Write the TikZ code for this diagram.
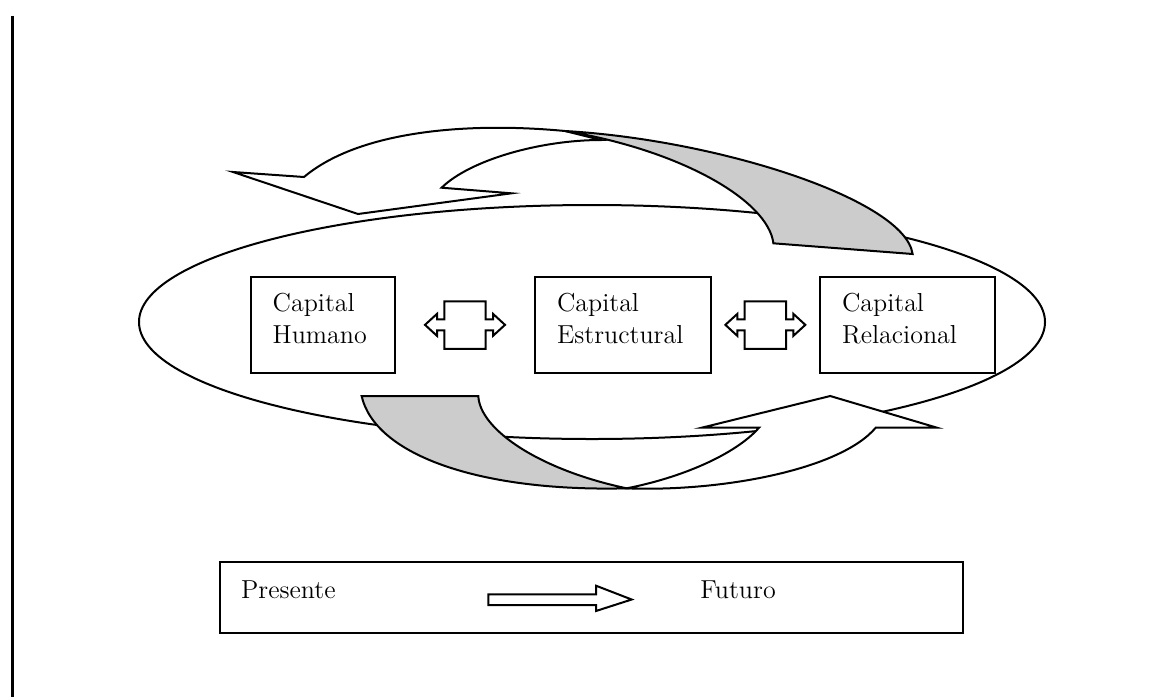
\documentclass[tikz,border=0pt]{standalone}
\usepackage{tikz}
\usetikzlibrary{positioning}
\usetikzlibrary{calc}
\definecolor{dorso}{gray}{0.8}
\tikzstyle{capbox}=[draw,line width=1pt,inner xsep=11pt,align=left,minimum height=47.8pt,text height=9.02pt,text depth=22.2pt,font=\fontsize{13}{15.8}\selectfont]
\tikzstyle{frontface}=[draw,line width=1pt,fill=white,line join=miter]
\tikzstyle{backface}=[draw,line width=1pt,fill=dorso]
\tikzstyle{blockarrow}=[draw,line width=1pt,fill=white]
\tikzstyle{rotulo}=[font=\fontsize{13}{15.8}\selectfont,inner sep=0pt]

\begin{document}
\begin{tikzpicture}[x=0.5pt,y=-0.5pt]
   \useasboundingbox (0,0) rectangle (1155,697);

   \draw[line width=1.35pt] (12.3,15.7) -- (12.3,697);

   \draw[line width=1pt] (592,322) ellipse [x radius=453, y radius=117];

   % upper turn
   \path[frontface] (304,177) .. controls (360,130) and (470,122) .. (565,131)
        -- (601,140) .. controls (540,140) and (470,160) .. (441.6,187.7)
        -- (511.5,193.3) -- (358,214) -- (233,172) -- cycle;
   \path[backface] (565,131) .. controls (720,140) and (905,200) .. (912.6,254)
        -- (773.4,243.3) .. controls (768,200) and (680,150) .. (565,131) -- cycle;

   % lower turn
   \path[backface] (361.6,396) -- (478.3,396) .. controls (480,430) and (540,470) .. (626.6,488.3)
        .. controls (480,492) and (375,455) .. (361.6,396) -- cycle;
   \path[frontface] (626.6,488.3) .. controls (720,492) and (840,470) .. (875.7,427.7)
        -- (937,427.7) -- (830.2,396) -- (701.7,427.7) -- (759,427.7)
        .. controls (735,455) and (680,478) .. (626.6,488.3) -- cycle;

    \foreach \pos/\name/\ancho/\label in {{(322.85,324.85)/hum/50.15pt/Capital\\Humano},
            {(622.85,324.85)/est/65.85pt/Capital\\Estructural}, {(907.5,324.85)/rel/65.5pt/Capital\\Relacional}}
            \node[capbox,text width=\ancho] (\name) at \pos {\label};

    \foreach \a/\b in {hum/est, est/rel}
        \draw[blockarrow,shift={($(\a.east)!0.5!(\b.west)$)}] (-20.7,-23.5) -- (20.7,-23.5) -- (20.7,-5.5)
            -- (28,-5.5) -- (28,-11) -- (40,0) -- (28,11) -- (28,5.5) -- (20.7,5.5) -- (20.7,24)
            -- (-20.7,24) -- (-20.7,5.5) -- (-28,5.5) -- (-28,11) -- (-40,0) -- (-28,-11)
            -- (-28,-5.5) -- (-20.7,-5.5) -- cycle;

   \node[draw,line width=1pt,minimum width=371.35pt,minimum height=35.5pt] (tiempo) at (591.35,597.8) {};
   \node[rotulo,anchor=base west] (pres) at (240.7,598.3) {Presente};
   \node[rotulo,anchor=base west] (fut) at (700,598.3) {Futuro};
   \draw[blockarrow] (488.3,594.3) -- (596,594.3) -- (596,585.7) -- (631.7,599.5)
        -- (596,611) -- (596,605) -- (488.3,605) -- cycle;
\end{tikzpicture}
\end{document}
